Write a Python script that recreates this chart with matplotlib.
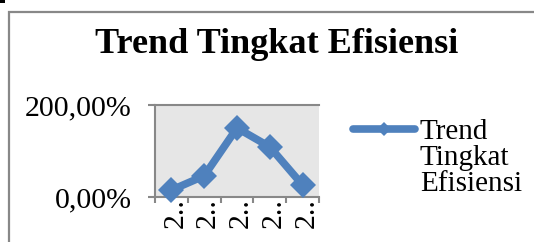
import numpy as np
import matplotlib
matplotlib.use('Agg')
import matplotlib.pyplot as plt
from matplotlib.lines import Line2D
from matplotlib.patches import Rectangle

# data
categories = ['2..', '2..', '2..', '2..', '2..']
efisiensi = [0.15, 0.46, 1.50, 1.09, 0.26]
y_ticks = [0.0, 2.0]
title = 'Trend Tingkat Efisiensi'
legend_label = 'Trend\nTingkat\nEfisiensi'

blue = '#4F81BD'
grey = '#888888'

plt.rcParams['font.family'] = ['Liberation Serif', 'DejaVu Serif']

W, H = 534, 242
fig = plt.figure(figsize=(W / 100, H / 100), dpi=100)

# outer chart border (cropped on right and bottom)
fig.add_artist(Rectangle((9 / W, -0.1), 1.2, 1 - 12 / H + 0.1, transform=fig.transFigure,
                         fill=False, edgecolor=grey, linewidth=1.6))
fig.add_artist(Rectangle((0, 1 - 3 / H), 5 / W, 3 / H, transform=fig.transFigure,
                         facecolor='black', edgecolor='none'))

ax = fig.add_axes([155 / W, 1 - 197 / H, (319 - 155) / W, (197 - 105) / H])
ax.set_facecolor('#E6E6E6')

x = np.arange(len(categories))
ax.plot(x, efisiensi, color=blue, linewidth=5.5, marker='D', markersize=13.5,
        markeredgewidth=0, clip_on=False, zorder=5)

ax.set_xlim(-0.5, len(categories) - 0.5)
ax.set_ylim(0, 2)

for s in ['left', 'bottom', 'top']:
    ax.spines[s].set_color(grey)
    ax.spines[s].set_linewidth(1.5)
ax.spines['right'].set_visible(False)

ax.set_yticks(y_ticks)
ax.set_yticklabels([f'{v * 100:.2f}%'.replace('.', ',') for v in y_ticks])
ax.tick_params(axis='y', direction='out', length=5, width=1.5, color=grey,
               labelsize=21.5, pad=12)

ax.set_xticks(np.arange(-0.5, len(categories), 1.0))
ax.set_xticklabels([])
ax.tick_params(axis='x', which='major', direction='out', length=4, width=1.5, color=grey)
ax.set_xticks(x + 0.12, minor=True)
ax.set_xticklabels(categories, minor=True, rotation=90, va='top', ha='center')
ax.tick_params(axis='x', which='minor', length=0, labelsize=21.5, pad=1)

fig.text(277 / W, 1 - 45 / H, title, fontsize=26, fontweight='bold',
         ha='center', va='center')

# legend
fig.add_artist(Line2D([353 / W, 415 / W], [1 - 129 / H, 1 - 129 / H], transform=fig.transFigure,
                      color=blue, linewidth=5.5, solid_capstyle='round'))
fig.add_artist(Line2D([384 / W], [1 - 129 / H], transform=fig.transFigure,
                      color=blue, marker='D', markersize=7, markeredgewidth=0))
fig.text(420 / W, 1 - 119 / H, legend_label, fontsize=21, ha='left', va='top',
         linespacing=1.0)

fig.savefig('out.png', dpi=100)
